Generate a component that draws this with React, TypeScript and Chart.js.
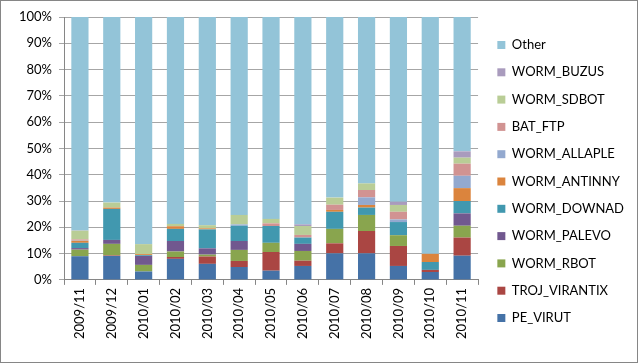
import { useEffect, useRef } from "react";
import { Chart, registerables } from "chart.js";

Chart.register(...registerables);

const categories = ["2009/11","2009/12","2010/01","2010/02","2010/03","2010/04","2010/05","2010/06","2010/07","2010/08","2010/09","2010/10","2010/11"];

const peVirut      = [9.0, 9.1, 3.2, 8.0, 6.1, 4.9, 3.5, 5.3, 10.1, 10.1, 5.3, 3.0, 9.2];
const trojVirantix = [0.0, 0.2, 0.0, 0.7, 2.8, 2.3, 7.1, 2.0, 3.8, 8.5, 7.6, 0.8, 6.9];
const wormRbot     = [2.5, 4.4, 2.5, 2.1, 0.7, 4.2, 3.5, 3.7, 5.5, 6.1, 4.1, 0.0, 4.5];
const wormPalevo   = [0.6, 1.5, 3.4, 4.0, 2.4, 3.4, 0.0, 2.7, 0.0, 0.0, 0.0, 0.0, 4.7];
const wormDownad   = [2.0, 11.8, 0.3, 4.6, 7.2, 5.8, 6.4, 2.4, 6.5, 2.8, 5.0, 3.0, 4.7];
const wormAntinny  = [0.8, 0.5, 0.4, 1.0, 0.4, 0.0, 0.0, 0.0, 0.7, 1.0, 0.0, 3.1, 4.9];
const wormAllaple  = [0.2, 0.0, 0.0, 0.0, 0.0, 0.5, 0.0, 0.0, 0.0, 2.9, 1.0, 0.0, 4.7];
const batFtp       = [0.3, 0.0, 0.0, 0.0, 0.0, 0.0, 1.0, 1.0, 2.0, 2.8, 2.9, 0.0, 4.6];
const wormSdbot    = [3.3, 1.9, 3.8, 0.9, 1.2, 3.6, 1.7, 3.4, 2.7, 2.5, 2.6, 0.0, 2.3];
const wormBuzus    = [0.1, 0.0, 0.0, 0.0, 0.0, 0.0, 0.0, 0.6, 0.0, 0.0, 1.2, 0.0, 2.4];
const other        = [81.2, 70.6, 86.4, 78.7, 79.2, 75.3, 76.8, 78.9, 68.7, 63.3, 70.3, 90.1, 51.1];

const yTicks = [0, 10, 20, 30, 40, 50, 60, 70, 80, 90, 100];

const seriesNames = ["PE_VIRUT","TROJ_VIRANTIX","WORM_RBOT","WORM_PALEVO","WORM_DOWNAD","WORM_ANTINNY","WORM_ALLAPLE","BAT_FTP","WORM_SDBOT","WORM_BUZUS","Other"];
const seriesData = [peVirut, trojVirantix, wormRbot, wormPalevo, wormDownad, wormAntinny, wormAllaple, batFtp, wormSdbot, wormBuzus, other];
const seriesColors = ["#4572A7","#AA4643","#89A54E","#71588F","#4198AF","#DB843D","#93A9CF","#D19392","#B9CD96","#A99BBD","#93C4D8"];

const shiftLegend = {
  id: "shiftLegend",
  afterLayout(chart: any) {
    const lg = chart.legend;
    if (lg) { lg.left += 5; lg.right += 5; lg.top += 2; lg.bottom += 2; }
  },
};

export default function App() {
  const ref = useRef<HTMLCanvasElement | null>(null);
  useEffect(() => {
    document.body.style.margin = "0";
    if (!ref.current) return;
    const font = { family: "Lato, 'Liberation Sans', sans-serif", size: 13 };
    const chart = new Chart(ref.current, {
      type: "bar",
      data: {
        labels: categories,
        datasets: seriesNames.map((n, i) => ({
          label: n,
          data: seriesData[i],
          backgroundColor: seriesColors[i],
          borderWidth: 0,
          barPercentage: 0.54,
          categoryPercentage: 1,
        })),
      },
      plugins: [shiftLegend],
      options: {
        animation: false,
        responsive: false,
        maintainAspectRatio: false,
        layout: { padding: { left: 0, right: 8, top: 16, bottom: 20 } },
        plugins: {
          tooltip: { enabled: false },
          legend: {
            position: "right",
            reverse: true,
            labels: {
              font,
              color: "#000",
              boxWidth: 8,
              boxHeight: 8,
              padding: 14.3,
            },
          },
        },
        scales: {
          x: {
            stacked: true,
            grid: { display: true, drawOnChartArea: false, offset: true, tickLength: 5, color: "#868686" },
            border: { color: "#868686" },
            ticks: { font, color: "#000", minRotation: 90, maxRotation: 90, padding: 3 },
          },
          y: {
            stacked: true,
            min: 0,
            max: 100,
            afterBuildTicks: (axis: any) => { axis.ticks = yTicks.map((v) => ({ value: v })); },
            afterFit: (axis: any) => { axis.width = 63; },
            grid: { color: "#a6a6a6", tickLength: 5 },
            border: { color: "#868686" },
            ticks: { font, color: "#000", padding: 7, callback: (v: any) => v + "%" },
          },
        },
      },
    });
    return () => chart.destroy();
  }, []);
  return (
    <div style={{ width: 638, height: 363, border: "1px solid #868686", boxSizing: "border-box", background: "#fff" }}>
      <canvas ref={ref} width={636} height={361} style={{ display: "block" }} />
    </div>
  );
}
